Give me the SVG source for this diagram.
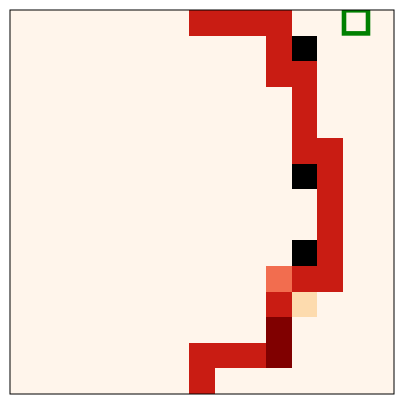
<svg xmlns="http://www.w3.org/2000/svg" width="405" height="405" viewBox="0 0 405 405">
<defs>
<clipPath id="plot"><rect x="10" y="10" width="384" height="384"/></clipPath>
</defs>
<style>
.r{fill:#c91c13}
.k{fill:#000000}
.cells rect{shape-rendering:crispEdges}
</style>
<rect width="405" height="405" fill="#ffffff"/>
<g id="grid">
<rect x="10" y="10" width="384" height="384" fill="#fff5eb"/>
<g id="path" class="cells">
<rect class="r" x="189.2" y="10" width="102.4" height="25.6"/>
<rect class="r" x="266" y="35.6" width="25.6" height="51.2"/>
<rect class="r" x="291.6" y="61.2" width="25.6" height="102.4"/>
<rect class="r" x="317.2" y="138" width="25.6" height="153.6"/>
<rect class="r" x="291.6" y="266" width="25.6" height="25.6"/>
<rect fill="#f26d4f" x="266" y="266" width="25.6" height="25.6"/>
<rect class="r" x="266" y="291.6" width="25.6" height="25.6"/>
<rect fill="#fddbae" x="291.6" y="291.6" width="25.6" height="25.6"/>
<rect fill="#800000" x="266" y="317.2" width="25.6" height="51.2"/>
<rect class="r" x="189.2" y="342.8" width="76.8" height="25.6"/>
<rect class="r" x="189.2" y="368.4" width="25.6" height="25.6"/>
</g>
<g id="obstacles" class="cells">
<rect class="k" x="291.6" y="35.6" width="25.6" height="25.6"/>
<rect class="k" x="291.6" y="163.6" width="25.6" height="25.6"/>
<rect class="k" x="291.6" y="240.4" width="25.6" height="25.6"/>
</g>
<g id="goal" clip-path="url(#plot)">
<rect x="344" y="10.3" width="24" height="23.1" fill="none" stroke="#008000" stroke-width="4.6"/>
</g>
<rect x="10" y="10" width="384" height="384" fill="none" stroke="#000000" stroke-width="1"/>
</g>
</svg>
